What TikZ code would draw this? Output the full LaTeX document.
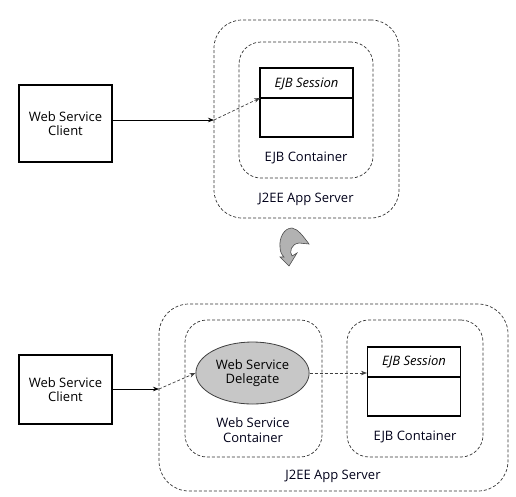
\documentclass[tikz,border=0pt]{standalone}
\usepackage{fontspec}
\setmainfont{Open Sans}
\usetikzlibrary{arrows.meta,positioning,shapes.geometric}
\tikzset{
  >={Stealth[length=6pt,width=4.5pt]},
  client/.style={
    rectangle,
    draw=black, line width=1.1pt,
    minimum width=93pt,
    align=center},
  frame/.style={
    rectangle,
    rounded corners=22pt,
    draw=black!80, line width=0.7pt,
    dash pattern=on 3pt off 2pt,
    inner sep=0pt},
  sessbox/.style={
    rectangle,
    draw=black, line width=1.1pt,
    minimum width=93pt, minimum height=69pt,
    inner sep=0pt},
  delegate/.style={
    ellipse,
    fill=black!22, draw=black!75, line width=0.8pt,
    minimum width=109pt, minimum height=62pt,
    align=center},
  label/.style={align=center, text=black!90!blue},
  call/.style={draw, line width=0.7pt, ->},
  hop/.style={draw=black!75, line width=0.7pt, dash pattern=on 3pt off 2pt, ->},
}

\begin{document}
\begin{tikzpicture}[x=1pt,y=-1pt,font=\fontsize{13}{14.5}\selectfont]
  \useasboundingbox (0,0) rectangle (516,496);

  % top: client talks straight to the EJB
  \node[client, minimum height=77pt] (client1) at (65.5,123.5) {Web Service\\Client};
  \node[frame, rounded corners=28pt, minimum width=185pt, minimum height=198pt] (server1) at (306.5,119) {};
  \node[frame, minimum width=134pt, minimum height=136pt] (ejbc1) at (306,110) {};
  \node[sessbox] (sess1) at (306.5,102.5) {};
  \node[font=\fontsize{13}{14.5}\selectfont\itshape] (sess1head) at (306.5,84) {EJB Session};
  \coordinate (sess1div) at (260,98);
  \draw[line width=1.1pt] (sess1div) -- (sess1div -| sess1.east);
  \node[label] (ejbc1lbl) at (306,158) {EJB Container};
  \node[label] (server1lbl) at (306,199) {J2EE App Server};

  \coordinate (in1) at (214,120);
  \draw[call] (client1.east |- in1) -- (in1);
  \draw[hop] (in1) -- (sess1div);

  % turn arrow
  \filldraw[fill=black!30, draw=black!70, line width=0.6pt]
    (309,244) .. controls (303,236) and (298,229) .. (292,228)
    .. controls (284,228) and (279,238) .. (280,247)
    .. controls (280,252) and (282,255) .. (284,257)
    -- (280,257) -- (289,266) -- (297,253) -- (292,256)
    .. controls (289,252) and (291,244) .. (299,243) -- cycle;

  % bottom: client goes through a delegate
  \node[client, minimum height=69pt] (client2) at (65.5,389.5) {Web Service\\Client};
  \node[frame, rounded corners=30pt, minimum width=349pt, minimum height=187pt] (server2) at (333.5,397.5) {};
  \node[frame, minimum width=137pt, minimum height=137pt] (wsc) at (253.5,388.5) {};
  \node[delegate] (deleg) at (252.5,373) {Web Service\\Delegate};
  \node[label] (wsclbl) at (253,430) {Web Service\\Container};
  \node[frame, minimum width=136pt, minimum height=137pt] (ejbc2) at (415,388.5) {};
  \node[sessbox] (sess2) at (414,381.5) {};
  \node[font=\fontsize{13}{14.5}\selectfont\itshape] (sess2head) at (414,362) {EJB Session};
  \coordinate (sess2div) at (368,377);
  \draw[line width=1.1pt] (sess2div) -- (sess2div -| sess2.east);
  \node[label] (ejbc2lbl) at (415,437) {EJB Container};
  \node[label] (server2lbl) at (333,476) {J2EE App Server};

  \coordinate (in2) at (159,389);
  \draw[call] (client2.east |- in2) -- (in2);
  \draw[hop] (in2) -- (deleg.west);
  \draw[hop] (deleg.east) -- (deleg.east -| sess2.west);

\end{tikzpicture}
\end{document}
